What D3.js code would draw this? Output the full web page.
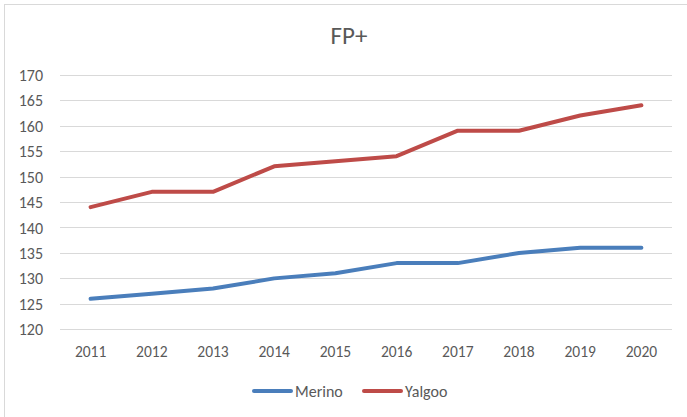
<!DOCTYPE html>
<meta charset="utf-8">
<style>
body { margin: 0; background: #fff; }
text { font-family: Calibri, Carlito, "Open Sans", sans-serif; fill: #595959; }
.grid line { stroke: #d9d9d9; stroke-width: 1px; }
.line { fill: none; stroke-width: 4px; stroke-linecap: round; stroke-linejoin: round; }
</style>
<svg width="687" height="417"></svg>
<script src="https://cdn.jsdelivr.net/npm/d3@7"></script>
<script>

var years = ["2011", "2012", "2013", "2014", "2015", "2016", "2017", "2018", "2019", "2020"];
var merino = [126, 127, 128, 130, 131, 133, 133, 135, 136, 136];
var yalgoo = [144, 147, 147, 152, 153, 154, 159, 159, 162, 164];
var yTicks = [120, 125, 130, 135, 140, 145, 150, 155, 160, 165, 170];

var series = [
  {name: "Merino", values: merino, color: "#4a7ebb"},
  {name: "Yalgoo", values: yalgoo, color: "#be4b48"}
];

var svg = d3.select("svg");

// chart border
svg.append("rect")
    .attr("x", 4.5).attr("y", 4.5)
    .attr("width", 700).attr("height", 430)
    .attr("fill", "none")
    .attr("stroke", "#d9d9d9");

var plotLeft = 60, plotRight = 672, plotTop = 74.7, plotBottom = 329.3;

var x = d3.scaleBand().domain(years).range([plotLeft, plotRight]);
var y = d3.scaleLinear().domain([120, 170]).range([plotBottom, plotTop]);

svg.append("text")
    .attr("x", 349).attr("y", 44)
    .attr("text-anchor", "middle")
    .style("font-size", "25px")
    .text("FP+");

svg.append("g")
    .attr("class", "grid")
  .selectAll("line")
  .data(yTicks)
  .enter().append("line")
    .attr("x1", plotLeft).attr("x2", plotRight)
    .attr("y1", function(d) { return Math.round(y(d)) + 0.5; })
    .attr("y2", function(d) { return Math.round(y(d)) + 0.5; });

var yAxis = svg.append("g")
    .attr("transform", "translate(43,0)")
    .call(d3.axisLeft(y).tickValues(yTicks).tickSize(0).tickPadding(0));
yAxis.select(".domain").remove();
yAxis.selectAll("text")
    .style("font-size", "16px")
    .attr("fill", "#595959")
    .attr("dy", "0.35em");

var xAxis = svg.append("g")
    .attr("transform", "translate(0,352)")
    .call(d3.axisBottom(x).tickSize(0).tickPadding(0));
xAxis.select(".domain").remove();
xAxis.selectAll("text")
    .style("font-size", "15.5px")
    .attr("fill", "#595959")
    .attr("dy", "0.35em");

var line = d3.line()
    .x(function(d, i) { return x(years[i]) + x.bandwidth() / 2; })
    .y(function(d) { return y(d); });

svg.selectAll(".line")
  .data(series)
  .enter().append("path")
    .attr("class", "line")
    .attr("stroke", function(d) { return d.color; })
    .attr("d", function(d) { return line(d.values); });

// legend
var legend = svg.selectAll(".legend")
  .data(series)
  .enter().append("g")
    .attr("class", "legend")
    .attr("transform", function(d, i) { return "translate(" + (254 + i * 110) + ",391)"; });

legend.append("line")
    .attr("x1", 0).attr("x2", 37)
    .attr("stroke", function(d) { return d.color; })
    .attr("stroke-width", 4)
    .attr("stroke-linecap", "round");

legend.append("text")
    .attr("x", 41).attr("dy", "0.35em")
    .style("font-size", "16px")
    .text(function(d) { return d.name; });

</script>
